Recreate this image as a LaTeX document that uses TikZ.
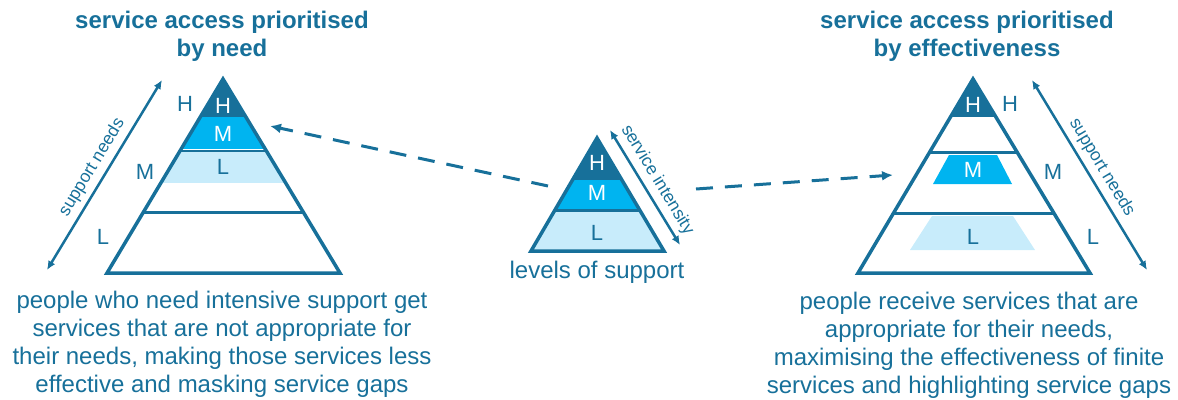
\documentclass[tikz,border=0pt]{standalone}
\usepackage{fontspec}
\setmainfont{Liberation Sans}
\usetikzlibrary{arrows.meta}
\definecolor{deep}{HTML}{17709A}
\definecolor{bright}{HTML}{00B4F0}
\definecolor{pale}{HTML}{C8ECFB}

\begin{document}
\begin{tikzpicture}[x=1pt,y=-1pt]
    % Styles for texts, outlines and arrows
    \tikzstyle{title}=[font=\fontsize{24}{28}\selectfont\bfseries, text=deep, align=center]
    \tikzstyle{note}=[font=\fontsize{24}{28}\selectfont, text=deep, align=center]
    \tikzstyle{level}=[font=\fontsize{22}{22}\selectfont, text=deep, inner sep=0pt]
    \tikzstyle{inlevel}=[level, text=white]
    \tikzstyle{edge}=[draw=deep, line width=3.5pt, line join=miter]
    \tikzstyle{band}=[draw=deep, line width=3pt]
    \tikzstyle{axis}=[deep, line width=2.5pt, {Latex[length=9pt,width=8pt]}-{Latex[length=9pt,width=8pt]}]
    \tikzstyle{axislabel}=[font=\fontsize{17.5}{18}\selectfont, text=deep, sloped, above, inner sep=5pt]
    \tikzstyle{link}=[deep, line width=3pt, dash pattern=on 17pt off 12pt, -{Latex[length=11pt,width=10pt]}]

    \useasboundingbox (0,0) rectangle (1178,399);

    % Corners of the three pyramids
    \coordinate (need_top) at (223,79);  \coordinate (need_bl) at (107,273); \coordinate (need_br) at (340,273);
    \coordinate (lvl_top) at (597,138);  \coordinate (lvl_bl) at (531,251);  \coordinate (lvl_br) at (664,251);
    \coordinate (eff_top) at (973,79);   \coordinate (eff_bl) at (858,273);  \coordinate (eff_br) at (1090,273);

    % Pyramid prioritised by need
    \begin{scope}
        \clip (need_top) -- (need_bl) -- (need_br) -- cycle;
        \fill[deep] (100,70) rectangle (350,117);
        \fill[bright] (100,117) rectangle (350,148.5);
        \fill[pale] (100,152) rectangle (350,183);
        \draw[band, line width=2.4pt] (100,151) -- (350,151);
        \draw[band] (100,212.5) -- (350,212.5);
    \end{scope}
    \draw[edge] (need_top) -- (need_bl) -- (need_br) -- cycle;

    % Pyramid of levels of support
    \begin{scope}
        \clip (lvl_top) -- (lvl_bl) -- (lvl_br) -- cycle;
        \fill[deep] (520,130) rectangle (680,178);
        \fill[bright] (520,178) rectangle (680,210);
        \fill[pale] (520,210) rectangle (680,260);
        \draw[band] (520,178) -- (680,178);
        \draw[band] (520,210) -- (680,210);
    \end{scope}
    \draw[edge] (lvl_top) -- (lvl_bl) -- (lvl_br) -- cycle;

    % Pyramid prioritised by effectiveness
    \begin{scope}
        \clip (eff_top) -- (eff_bl) -- (eff_br) -- cycle;
        \fill[deep] (850,70) rectangle (1100,117);
        \draw[band] (850,152) -- (1100,152);
        \draw[band] (850,213) -- (1100,213);
    \end{scope}
    \fill[bright] (949,155) -- (997,155) -- (1012,184) -- (933,184) -- cycle;
    \fill[pale] (932,216) -- (1013,216) -- (1035,250) -- (910,250) -- cycle;
    \draw[edge] (eff_top) -- (eff_bl) -- (eff_br) -- cycle;

    % Titles
    \node[title] (need_title) at (222,36) {service access prioritised\\by need};
    \node[title] (eff_title) at (967,36) {service access prioritised\\by effectiveness};

    % Level letters
    \node[inlevel] (need_h) at (223,106) {H};
    \node[inlevel] (need_m) at (223,134) {M};
    \node[level] (need_l) at (223,167) {L};
    \node[level] (need_oh) at (185,104) {H};
    \node[level] (need_om) at (145,172) {M};
    \node[level] (need_ol) at (103,237) {L};

    \node[inlevel] (lvl_h) at (597,163) {H};
    \node[inlevel] (lvl_m) at (597,193) {M};
    \node[level] (lvl_l) at (597,233) {L};

    \node[inlevel] (eff_h) at (973,105) {H};
    \node[inlevel] (eff_m) at (973,170) {M};
    \node[level] (eff_l) at (973,237) {L};
    \node[level] (eff_oh) at (1010,104) {H};
    \node[level] (eff_om) at (1053,172) {M};
    \node[level] (eff_ol) at (1093,237) {L};

    % Side arrows
    \coordinate (need_lo) at (47,270);  \coordinate (need_hi) at (162,80);
    \coordinate (int_hi) at (610,130);  \coordinate (int_lo) at (680,245);
    \coordinate (eff_hi) at (1032,80);  \coordinate (eff_lo) at (1147,270);
    \draw[axis] (need_lo) -- node[axislabel] {support needs} (need_hi);
    \draw[axis] (int_hi) -- node[axislabel] {service intensity} (int_lo);
    \draw[axis] (eff_hi) -- node[axislabel] {support needs} (eff_lo);

    % Dashed links from the levels
    \coordinate (lvl_out_l) at (548,186);  \coordinate (need_in) at (270,126);
    \coordinate (lvl_out_r) at (696,189);  \coordinate (eff_in) at (893,175);
    \draw[link] (lvl_out_l) -- (need_in);
    \draw[link] (lvl_out_r) -- (eff_in);

    % Captions
    \node[note] (lvl_cap) at (597,272) {levels of support};
    \node[note] (need_cap) at (222,344) {people who need intensive support get\\services that are not appropriate for\\their needs, making those services less\\effective and masking service gaps};
    \node[note] (eff_cap) at (969,345) {people receive services that are\\appropriate for their needs,\\maximising the effectiveness of finite\\services and highlighting service gaps};
\end{tikzpicture}
\end{document}
